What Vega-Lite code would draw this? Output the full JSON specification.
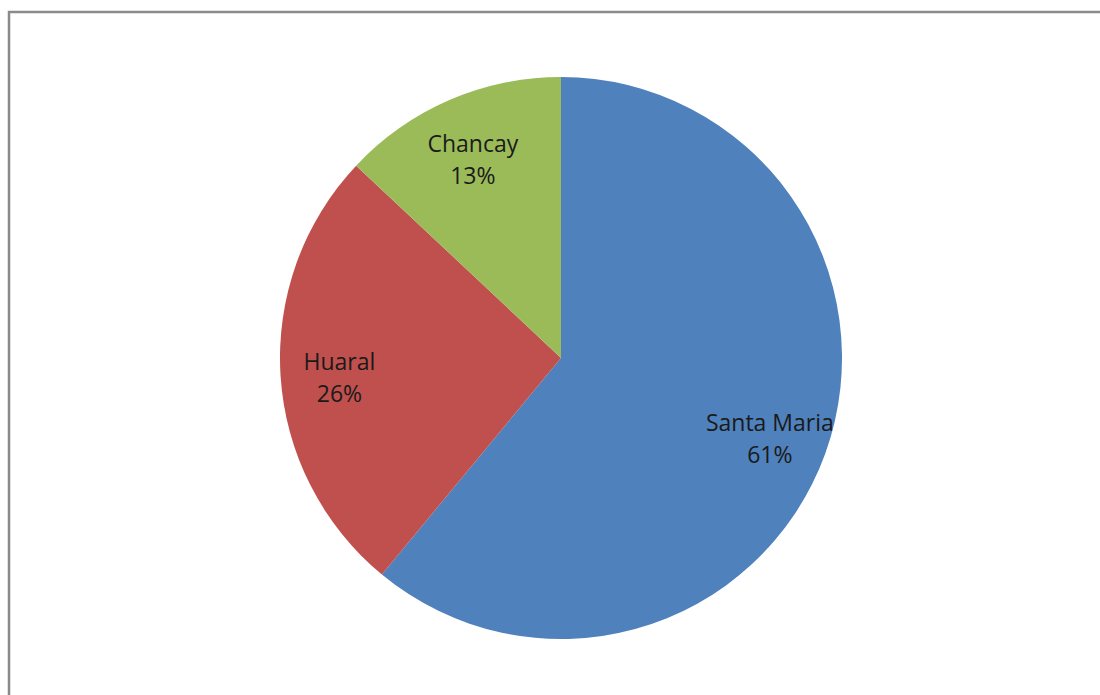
{
  "$schema": "https://vega.github.io/schema/vega-lite/v6.json",
  "width": 1104,
  "height": 692,
  "autosize": {"type": "none"},
  "padding": {"left": 9, "top": 12, "right": 0, "bottom": 0},
  "background": "white",
  "view": {"stroke": "#8a8a8a", "strokeWidth": 2.5, "fill": "white"},
  "config": {"view": {"stroke": "#8a8a8a", "strokeWidth": 2.5}},
  "data": {
    "values": [
      {"name": "Santa Maria", "pct": 61, "idx": 1},
      {"name": "Huaral", "pct": 26, "idx": 2},
      {"name": "Chancay", "pct": 13, "idx": 3}
    ]
  },
  "transform": [
    {"calculate": "datum.name + '\\n' + datum.pct + '%'", "as": "label"}
  ],
  "encoding": {
    "theta": {"field": "pct", "type": "quantitative", "stack": true},
    "order": {"field": "idx", "type": "quantitative"},
    "color": {
      "field": "name",
      "type": "nominal",
      "scale": {"domain": ["Santa Maria", "Huaral", "Chancay"], "range": ["#4F81BD", "#C0504D", "#9BBB59"]},
      "legend": null
    }
  },
  "layer": [
    {"mark": {"type": "arc", "outerRadius": 281}},
    {
      "mark": {"type": "text", "radius": 222, "dy": -9, "font": "Open Sans", "fontSize": 23, "lineBreak": "\n", "lineHeight": 32, "baseline": "middle", "align": "center"},
      "encoding": {"text": {"field": "label"}, "color": {"value": "#1a1a1a"}}
    }
  ]
}
